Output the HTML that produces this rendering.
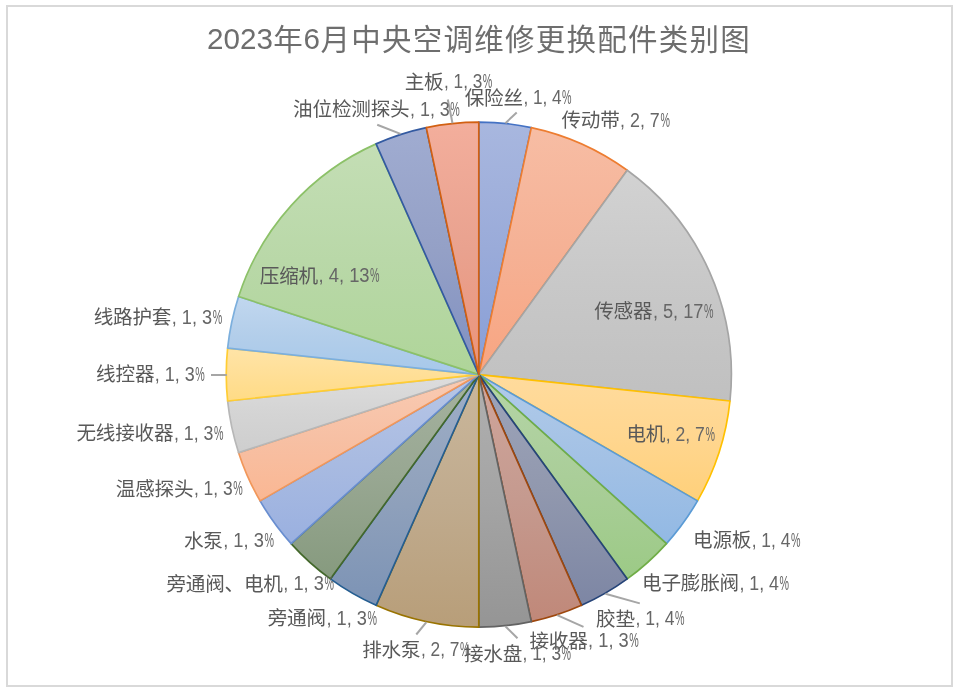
<!DOCTYPE html>
<html lang="zh-CN"><head><meta charset="utf-8"><title>2023年6月中央空调维修更换配件类别图</title>
<style>
html,body{margin:0;padding:0;background:#fff;}
body{width:960px;height:691px;overflow:hidden;position:relative;}
svg{position:absolute;left:0;top:0;display:block;}
text{font-family:"Liberation Sans","Noto Sans CJK SC",sans-serif;fill:#595959;}
.cj{font-family:"Noto Sans CJK SC","Liberation Sans",sans-serif;font-weight:400;}
.lb{font-size:19.6px;}
.lt{font-size:19.4px;fill:#666;}
</style></head><body>
<svg width="960" height="691" viewBox="0 0 960 691">
<rect x="0" y="0" width="960" height="691" fill="#fff"/>
<rect x="7" y="6" width="945" height="680" fill="#fff" stroke="#D9D9D9" stroke-width="2"/>
<defs>
<linearGradient id="g0" gradientUnits="userSpaceOnUse" x1="0" y1="122.1" x2="0" y2="374.6"><stop offset="0" stop-color="#A8B7DF"/><stop offset="0.5" stop-color="#9AABD9"/><stop offset="1" stop-color="#879ED7"/></linearGradient>
<linearGradient id="g1" gradientUnits="userSpaceOnUse" x1="0" y1="127.6" x2="0" y2="374.6"><stop offset="0" stop-color="#F7BDA4"/><stop offset="0.5" stop-color="#F5B195"/><stop offset="1" stop-color="#F8A581"/></linearGradient>
<linearGradient id="g2" gradientUnits="userSpaceOnUse" x1="0" y1="170.3" x2="0" y2="401.0"><stop offset="0" stop-color="#D2D2D2"/><stop offset="0.5" stop-color="#C8C8C8"/><stop offset="1" stop-color="#C0C0C0"/></linearGradient>
<linearGradient id="g3" gradientUnits="userSpaceOnUse" x1="0" y1="374.6" x2="0" y2="500.9"><stop offset="0" stop-color="#FFDB9D"/><stop offset="0.5" stop-color="#FFD68F"/><stop offset="1" stop-color="#FFD07A"/></linearGradient>
<linearGradient id="g4" gradientUnits="userSpaceOnUse" x1="0" y1="374.6" x2="0" y2="543.6"><stop offset="0" stop-color="#B1CBE9"/><stop offset="0.5" stop-color="#A3C1E5"/><stop offset="1" stop-color="#92B9E4"/></linearGradient>
<linearGradient id="g5" gradientUnits="userSpaceOnUse" x1="0" y1="374.6" x2="0" y2="578.9"><stop offset="0" stop-color="#B5D5A7"/><stop offset="0.5" stop-color="#AACE99"/><stop offset="1" stop-color="#9CCA86"/></linearGradient>
<linearGradient id="g6" gradientUnits="userSpaceOnUse" x1="0" y1="374.6" x2="0" y2="605.3"><stop offset="0" stop-color="#9EA5BA"/><stop offset="0.5" stop-color="#9198AE"/><stop offset="1" stop-color="#7D86A4"/></linearGradient>
<linearGradient id="g7" gradientUnits="userSpaceOnUse" x1="0" y1="374.6" x2="0" y2="621.6"><stop offset="0" stop-color="#D0A69C"/><stop offset="0.5" stop-color="#C59A8F"/><stop offset="1" stop-color="#C08879"/></linearGradient>
<linearGradient id="g8" gradientUnits="userSpaceOnUse" x1="0" y1="374.6" x2="0" y2="627.2"><stop offset="0" stop-color="#B0B0B0"/><stop offset="0.5" stop-color="#A4A4A4"/><stop offset="1" stop-color="#959595"/></linearGradient>
<linearGradient id="g9" gradientUnits="userSpaceOnUse" x1="0" y1="374.6" x2="0" y2="627.2"><stop offset="0" stop-color="#CAB79B"/><stop offset="0.5" stop-color="#C0AB8E"/><stop offset="1" stop-color="#B89E79"/></linearGradient>
<linearGradient id="g10" gradientUnits="userSpaceOnUse" x1="0" y1="374.6" x2="0" y2="605.3"><stop offset="0" stop-color="#9EAEC7"/><stop offset="0.5" stop-color="#91A2BC"/><stop offset="1" stop-color="#7C93B5"/></linearGradient>
<linearGradient id="g11" gradientUnits="userSpaceOnUse" x1="0" y1="374.6" x2="0" y2="578.9"><stop offset="0" stop-color="#A5B29F"/><stop offset="0.5" stop-color="#98A792"/><stop offset="1" stop-color="#869A7E"/></linearGradient>
<linearGradient id="g12" gradientUnits="userSpaceOnUse" x1="0" y1="374.6" x2="0" y2="543.6"><stop offset="0" stop-color="#B7C6E7"/><stop offset="0.5" stop-color="#A9BBE1"/><stop offset="1" stop-color="#9AB0E0"/></linearGradient>
<linearGradient id="g13" gradientUnits="userSpaceOnUse" x1="0" y1="374.6" x2="0" y2="500.9"><stop offset="0" stop-color="#F9CBB3"/><stop offset="0.5" stop-color="#F7C0A4"/><stop offset="1" stop-color="#FAB793"/></linearGradient>
<linearGradient id="g14" gradientUnits="userSpaceOnUse" x1="0" y1="374.6" x2="0" y2="452.6"><stop offset="0" stop-color="#DDDDDD"/><stop offset="0.5" stop-color="#D4D4D4"/><stop offset="1" stop-color="#CECECE"/></linearGradient>
<linearGradient id="g15" gradientUnits="userSpaceOnUse" x1="0" y1="348.2" x2="0" y2="401.0"><stop offset="0" stop-color="#FFE4A7"/><stop offset="0.5" stop-color="#FFDF97"/><stop offset="1" stop-color="#FFDB85"/></linearGradient>
<linearGradient id="g16" gradientUnits="userSpaceOnUse" x1="0" y1="296.6" x2="0" y2="374.6"><stop offset="0" stop-color="#C1D7EF"/><stop offset="0.5" stop-color="#B3CEEA"/><stop offset="1" stop-color="#A6C8EA"/></linearGradient>
<linearGradient id="g17" gradientUnits="userSpaceOnUse" x1="0" y1="143.9" x2="0" y2="374.6"><stop offset="0" stop-color="#C4DEB5"/><stop offset="0.5" stop-color="#B9D8A8"/><stop offset="1" stop-color="#AFD599"/></linearGradient>
<linearGradient id="g18" gradientUnits="userSpaceOnUse" x1="0" y1="127.6" x2="0" y2="374.6"><stop offset="0" stop-color="#A0ACD1"/><stop offset="0.5" stop-color="#94A0C6"/><stop offset="1" stop-color="#8090C1"/></linearGradient>
<linearGradient id="g19" gradientUnits="userSpaceOnUse" x1="0" y1="122.1" x2="0" y2="374.6"><stop offset="0" stop-color="#F3AE9C"/><stop offset="0.5" stop-color="#E9A28F"/><stop offset="1" stop-color="#EB9379"/></linearGradient>
</defs>
<g>
<path d="M478.8,374.6L478.80,122.05A252.55,252.55 0 0 1 531.31,127.57Z" fill="url(#g0)" stroke="#4472C4" stroke-width="1.7" stroke-linejoin="round"/>
<path d="M478.8,374.6L531.31,127.57A252.55,252.55 0 0 1 627.25,170.28Z" fill="url(#g1)" stroke="#ED7D31" stroke-width="1.7" stroke-linejoin="round"/>
<path d="M478.8,374.6L627.25,170.28A252.55,252.55 0 0 1 729.97,401.00Z" fill="url(#g2)" stroke="#A5A5A5" stroke-width="1.7" stroke-linejoin="round"/>
<path d="M478.8,374.6L729.97,401.00A252.55,252.55 0 0 1 697.51,500.88Z" fill="url(#g3)" stroke="#FFC000" stroke-width="1.7" stroke-linejoin="round"/>
<path d="M478.8,374.6L697.51,500.88A252.55,252.55 0 0 1 666.48,543.59Z" fill="url(#g4)" stroke="#5B9BD5" stroke-width="1.7" stroke-linejoin="round"/>
<path d="M478.8,374.6L666.48,543.59A252.55,252.55 0 0 1 627.25,578.92Z" fill="url(#g5)" stroke="#70AD47" stroke-width="1.7" stroke-linejoin="round"/>
<path d="M478.8,374.6L627.25,578.92A252.55,252.55 0 0 1 581.52,605.32Z" fill="url(#g6)" stroke="#264478" stroke-width="1.7" stroke-linejoin="round"/>
<path d="M478.8,374.6L581.52,605.32A252.55,252.55 0 0 1 531.31,621.63Z" fill="url(#g7)" stroke="#9E480E" stroke-width="1.7" stroke-linejoin="round"/>
<path d="M478.8,374.6L531.31,621.63A252.55,252.55 0 0 1 478.80,627.15Z" fill="url(#g8)" stroke="#636363" stroke-width="1.7" stroke-linejoin="round"/>
<path d="M478.8,374.6L478.80,627.15A252.55,252.55 0 0 1 376.08,605.32Z" fill="url(#g9)" stroke="#997300" stroke-width="1.7" stroke-linejoin="round"/>
<path d="M478.8,374.6L376.08,605.32A252.55,252.55 0 0 1 330.35,578.92Z" fill="url(#g10)" stroke="#255E91" stroke-width="1.7" stroke-linejoin="round"/>
<path d="M478.8,374.6L330.35,578.92A252.55,252.55 0 0 1 291.12,543.59Z" fill="url(#g11)" stroke="#43682B" stroke-width="1.7" stroke-linejoin="round"/>
<path d="M478.8,374.6L291.12,543.59A252.55,252.55 0 0 1 260.09,500.88Z" fill="url(#g12)" stroke="#698ED0" stroke-width="1.7" stroke-linejoin="round"/>
<path d="M478.8,374.6L260.09,500.88A252.55,252.55 0 0 1 238.61,452.64Z" fill="url(#g13)" stroke="#F1975A" stroke-width="1.7" stroke-linejoin="round"/>
<path d="M478.8,374.6L238.61,452.64A252.55,252.55 0 0 1 227.63,401.00Z" fill="url(#g14)" stroke="#B7B7B7" stroke-width="1.7" stroke-linejoin="round"/>
<path d="M478.8,374.6L227.63,401.00A252.55,252.55 0 0 1 227.63,348.20Z" fill="url(#g15)" stroke="#FFCD33" stroke-width="1.7" stroke-linejoin="round"/>
<path d="M478.8,374.6L227.63,348.20A252.55,252.55 0 0 1 238.61,296.56Z" fill="url(#g16)" stroke="#7CAFDD" stroke-width="1.7" stroke-linejoin="round"/>
<path d="M478.8,374.6L238.61,296.56A252.55,252.55 0 0 1 376.08,143.88Z" fill="url(#g17)" stroke="#8CC168" stroke-width="1.7" stroke-linejoin="round"/>
<path d="M478.8,374.6L376.08,143.88A252.55,252.55 0 0 1 426.29,127.57Z" fill="url(#g18)" stroke="#335AA1" stroke-width="1.7" stroke-linejoin="round"/>
<path d="M478.8,374.6L426.29,127.57A252.55,252.55 0 0 1 478.80,122.05Z" fill="url(#g19)" stroke="#D26012" stroke-width="1.7" stroke-linejoin="round"/>
</g>
<g stroke="#A6A6A6" stroke-width="2" fill="none">
<line x1="377.2" y1="124.7" x2="400.5" y2="133.9"/>
<line x1="447.8" y1="99.5" x2="452.5" y2="123.2"/>
<line x1="516.7" y1="112.5" x2="505.4" y2="123.2"/>
<line x1="639.8" y1="603.4" x2="605.4" y2="593.7"/>
<line x1="583.5" y1="626.9" x2="557.2" y2="615.2"/>
<line x1="517.5" y1="638.3" x2="505.4" y2="626.2"/>
<line x1="416.3" y1="634.5" x2="426.4" y2="622.1"/>
<line x1="211" y1="375" x2="226.8" y2="375"/>
</g>
<text x="207.0" y="48.75" style="font-size:29.6px;fill:#6e6e6e"><tspan>2023</tspan><tspan class="cj" style="font-size:29.5px;letter-spacing:1.25px" x="273.3" dy="0.9">年</tspan><tspan x="303.6" dy="-0.9">6</tspan><tspan class="cj" style="font-size:29.5px;letter-spacing:1.25px" x="320.5" dy="0.9">月中央空调维修更换配件类别图</tspan></text>
<text class="lb" y="104.0"><tspan class="cj" x="464.7" dy="0.5" style="letter-spacing:-0.2px">保险丝</tspan><tspan class="lt" x="523.4" dy="-0.5" textLength="38.2" lengthAdjust="spacingAndGlyphs">, 1, 4</tspan><tspan class="lt" x="562.1" textLength="9.5" lengthAdjust="spacingAndGlyphs">%</tspan></text>
<text class="lb" y="126.7"><tspan class="cj" x="561.4" dy="0.5" style="letter-spacing:-0.2px">传动带</tspan><tspan class="lt" x="620.1" dy="-0.5" textLength="39.7" lengthAdjust="spacingAndGlyphs">, 2, 7</tspan><tspan class="lt" x="660.4" textLength="9.5" lengthAdjust="spacingAndGlyphs">%</tspan></text>
<text class="lb" y="317.5"><tspan class="cj" x="594.2" dy="0.5" style="letter-spacing:-0.2px">传感器</tspan><tspan class="lt" x="652.9" dy="-0.5" textLength="50.5" lengthAdjust="spacingAndGlyphs">, 5, 17</tspan><tspan class="lt" x="703.9" textLength="9.5" lengthAdjust="spacingAndGlyphs">%</tspan></text>
<text class="lb" y="440.8"><tspan class="cj" x="626.4" dy="0.5" style="letter-spacing:-0.2px">电机</tspan><tspan class="lt" x="665.7" dy="-0.5" textLength="39.1" lengthAdjust="spacingAndGlyphs">, 2, 7</tspan><tspan class="lt" x="705.4" textLength="9.5" lengthAdjust="spacingAndGlyphs">%</tspan></text>
<text class="lb" y="546.6"><tspan class="cj" x="693.0" dy="0.5" style="letter-spacing:-0.2px">电源板</tspan><tspan class="lt" x="751.7" dy="-0.5" textLength="38.6" lengthAdjust="spacingAndGlyphs">, 1, 4</tspan><tspan class="lt" x="790.9" textLength="9.5" lengthAdjust="spacingAndGlyphs">%</tspan></text>
<text class="lb" y="589.7"><tspan class="cj" x="642.0" dy="0.5" style="letter-spacing:-0.2px">电子膨胀阀</tspan><tspan class="lt" x="739.5" dy="-0.5" textLength="39.5" lengthAdjust="spacingAndGlyphs">, 1, 4</tspan><tspan class="lt" x="779.5" textLength="9.5" lengthAdjust="spacingAndGlyphs">%</tspan></text>
<text class="lb" y="625.0"><tspan class="cj" x="596.1" dy="0.5" style="letter-spacing:-0.2px">胶垫</tspan><tspan class="lt" x="635.4" dy="-0.5" textLength="39.2" lengthAdjust="spacingAndGlyphs">, 1, 4</tspan><tspan class="lt" x="675.1" textLength="9.5" lengthAdjust="spacingAndGlyphs">%</tspan></text>
<text class="lb" y="647.1"><tspan class="cj" x="529.4" dy="0.5" style="letter-spacing:-0.2px">接收器</tspan><tspan class="lt" x="588.1" dy="-0.5" textLength="40.6" lengthAdjust="spacingAndGlyphs">, 1, 3</tspan><tspan class="lt" x="629.2" textLength="9.5" lengthAdjust="spacingAndGlyphs">%</tspan></text>
<text class="lb" y="660.0"><tspan class="cj" x="463.9" dy="0.5" style="letter-spacing:-0.2px">接水盘</tspan><tspan class="lt" x="522.6" dy="-0.5" textLength="38.5" lengthAdjust="spacingAndGlyphs">, 1, 3</tspan><tspan class="lt" x="561.6" textLength="9.5" lengthAdjust="spacingAndGlyphs">%</tspan></text>
<text class="lb" y="656.3"><tspan class="cj" x="362.2" dy="0.5" style="letter-spacing:-0.2px">排水泵</tspan><tspan class="lt" x="420.9" dy="-0.5" textLength="38.5" lengthAdjust="spacingAndGlyphs">, 2, 7</tspan><tspan class="lt" x="459.9" textLength="9.5" lengthAdjust="spacingAndGlyphs">%</tspan></text>
<text class="lb" y="624.5"><tspan class="cj" x="267.7" dy="0.5" style="letter-spacing:-0.2px">旁通阀</tspan><tspan class="lt" x="326.4" dy="-0.5" textLength="40.5" lengthAdjust="spacingAndGlyphs">, 1, 3</tspan><tspan class="lt" x="367.4" textLength="9.5" lengthAdjust="spacingAndGlyphs">%</tspan></text>
<text class="lb" y="590.0"><tspan class="cj" x="166.4" dy="0.5" style="letter-spacing:-0.2px">旁通阀、电机</tspan><tspan class="lt" x="283.3" dy="-0.5" textLength="40.6" lengthAdjust="spacingAndGlyphs">, 1, 3</tspan><tspan class="lt" x="324.4" textLength="9.5" lengthAdjust="spacingAndGlyphs">%</tspan></text>
<text class="lb" y="547.0"><tspan class="cj" x="183.9" dy="0.5" style="letter-spacing:-0.2px">水泵</tspan><tspan class="lt" x="223.2" dy="-0.5" textLength="40.7" lengthAdjust="spacingAndGlyphs">, 1, 3</tspan><tspan class="lt" x="264.4" textLength="9.5" lengthAdjust="spacingAndGlyphs">%</tspan></text>
<text class="lb" y="495.3"><tspan class="cj" x="115.8" dy="0.5" style="letter-spacing:-0.2px">温感探头</tspan><tspan class="lt" x="193.9" dy="-0.5" textLength="38.8" lengthAdjust="spacingAndGlyphs">, 1, 3</tspan><tspan class="lt" x="233.2" textLength="9.5" lengthAdjust="spacingAndGlyphs">%</tspan></text>
<text class="lb" y="439.6"><tspan class="cj" x="76.4" dy="0.5" style="letter-spacing:-0.2px">无线接收器</tspan><tspan class="lt" x="173.9" dy="-0.5" textLength="39.5" lengthAdjust="spacingAndGlyphs">, 1, 3</tspan><tspan class="lt" x="214.0" textLength="9.5" lengthAdjust="spacingAndGlyphs">%</tspan></text>
<text class="lb" y="380.7"><tspan class="cj" x="96.1" dy="0.5" style="letter-spacing:-0.2px">线控器</tspan><tspan class="lt" x="154.8" dy="-0.5" textLength="39.9" lengthAdjust="spacingAndGlyphs">, 1, 3</tspan><tspan class="lt" x="195.2" textLength="9.5" lengthAdjust="spacingAndGlyphs">%</tspan></text>
<text class="lb" y="323.7"><tspan class="cj" x="93.7" dy="0.5" style="letter-spacing:-0.2px">线路护套</tspan><tspan class="lt" x="171.8" dy="-0.5" textLength="40.3" lengthAdjust="spacingAndGlyphs">, 1, 3</tspan><tspan class="lt" x="212.7" textLength="9.5" lengthAdjust="spacingAndGlyphs">%</tspan></text>
<text class="lb" y="282.0"><tspan class="cj" x="259.8" dy="0.5" style="letter-spacing:-0.2px">压缩机</tspan><tspan class="lt" x="318.5" dy="-0.5" textLength="51.1" lengthAdjust="spacingAndGlyphs">, 4, 13</tspan><tspan class="lt" x="370.1" textLength="9.5" lengthAdjust="spacingAndGlyphs">%</tspan></text>
<text class="lb" y="115.8"><tspan class="cj" x="293.1" dy="0.5" style="letter-spacing:-0.2px">油位检测探头</tspan><tspan class="lt" x="410.0" dy="-0.5" textLength="39.8" lengthAdjust="spacingAndGlyphs">, 1, 3</tspan><tspan class="lt" x="450.3" textLength="9.5" lengthAdjust="spacingAndGlyphs">%</tspan></text>
<text class="lb" y="88.0"><tspan class="cj" x="404.7" dy="0.5" style="letter-spacing:-0.2px">主板</tspan><tspan class="lt" x="444.0" dy="-0.5" textLength="38.3" lengthAdjust="spacingAndGlyphs">, 1, 3</tspan><tspan class="lt" x="482.8" textLength="9.5" lengthAdjust="spacingAndGlyphs">%</tspan></text>
</svg></body></html>
